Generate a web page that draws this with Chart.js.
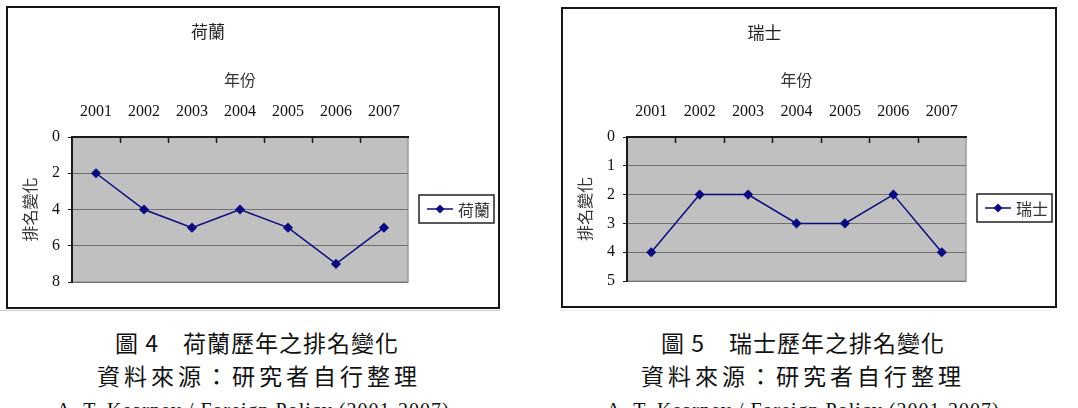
<!DOCTYPE html>
<html>
<head>
<meta charset="utf-8">
<script src="https://cdn.jsdelivr.net/npm/chart.js@4"></script>
<style>
  html, body { margin: 0; padding: 0; background: #fff; }
  body { width: 1078px; height: 408px; position: relative; overflow: hidden; }
  .box { position: absolute; border: 2px solid #161616; box-sizing: border-box; background: #fff; }
  .box canvas { position: absolute; left: 0; top: 0; }
  .rule { position: absolute; height: 1px; }
  .cap { position: absolute; text-align: center; color: #111; white-space: nowrap; }
  .cjk { font-family: "Noto Sans CJK TC", sans-serif; font-size: 23px; line-height: 30px; }
  .src { font-family: "Liberation Serif", serif; font-size: 20px; line-height: 20px; letter-spacing: 1px; }
</style>
</head>
<body>
<div class="box" style="left:6px;top:6px;width:494px;height:303px;"><canvas id="nlChart" width="490" height="299"></canvas></div>
<div class="box" style="left:561px;top:7px;width:496px;height:301px;"><canvas id="chChart" width="492" height="297"></canvas></div>
<div class="rule" style="left:0;top:310px;width:500px;background:#cfcfcf;"></div>
<div class="rule" style="left:560px;top:310px;width:492px;background:#ececec;"></div>

<div class="cap cjk" style="left:0;top:327px;width:514px;letter-spacing:1px;">圖 4　荷蘭歷年之排名變化</div>
<div class="cap cjk" style="left:0;top:360px;width:518px;letter-spacing:4px;">資料來源：研究者自行整理</div>
<div class="cap src" style="left:0;top:400px;width:506px;">A. T. Kearney / Foreign Policy (2001-2007)</div>

<div class="cap cjk" style="left:546px;top:327px;width:514px;letter-spacing:1px;">圖 5　瑞士歷年之排名變化</div>
<div class="cap cjk" style="left:546px;top:360px;width:514px;letter-spacing:4px;">資料來源：研究者自行整理</div>
<div class="cap src" style="left:546px;top:400px;width:514px;">A. T. Kearney / Foreign Policy (2001-2007)</div>

<script>
const YEARS = ["2001", "2002", "2003", "2004", "2005", "2006", "2007"];

const NL_NAME = "荷蘭";
const NL_RANK = [2, 4, 5, 4, 5, 7, 5];
const NL_Y_MAX = 8;
const NL_Y_STEP = 2;

const CH_NAME = "瑞士";
const CH_RANK = [4, 2, 2, 3, 3, 2, 4];
const CH_Y_MAX = 5;
const CH_Y_STEP = 1;

const X_TITLE = "年份";
const Y_TITLE = "排名變化";

const LINE_COLOR = "#0a0a80";
const SERIF = "'Liberation Serif', 'Times New Roman', serif";
const CJK = "'Noto Sans CJK TC', sans-serif";

// grey plot area with light right / bottom edge
const plotBackground = {
  id: "plotBackground",
  beforeDraw(chart) {
    const { ctx, chartArea: a } = chart;
    ctx.save();
    ctx.fillStyle = "#c0c0c0";
    ctx.fillRect(a.left, a.top, a.right - a.left, a.bottom - a.top);
    ctx.strokeStyle = "#9a9a9a";
    ctx.lineWidth = 1.5;
    ctx.strokeRect(a.left, a.top, a.right - a.left, a.bottom - a.top);
    ctx.restore();
  },
};

// small tick marks pointing down from the top axis, between categories
const innerTicks = {
  id: "innerTicks",
  afterDatasetsDraw(chart) {
    const { ctx, chartArea: a } = chart;
    const x = chart.scales.x;
    ctx.save();
    ctx.strokeStyle = "#1a1a1a";
    ctx.lineWidth = 1.5;
    for (let i = 1; i < YEARS.length; i++) {
      const px = Math.round((x.getPixelForValue(i - 1) + x.getPixelForValue(i)) / 2) + 0.5;
      ctx.beginPath();
      ctx.moveTo(px, a.top);
      ctx.lineTo(px, a.top + 6);
      ctx.stroke();
    }
    ctx.restore();
  },
};

// boxed legend to the right of the plot
const boxLegend = {
  id: "boxLegend",
  afterDraw(chart) {
    const { ctx, chartArea: a } = chart;
    const ds = chart.data.datasets[0];
    const w = 75, h = 28;
    const left = a.right + 11;
    const top = Math.round((a.top + a.bottom) / 2 - h / 2) - 1;
    const cy = top + h / 2;
    ctx.save();
    ctx.strokeStyle = "#222";
    ctx.lineWidth = 1.5;
    ctx.strokeRect(left, top, w, h);
    ctx.strokeStyle = ds.borderColor;
    ctx.lineWidth = 1.5;
    ctx.beginPath();
    ctx.moveTo(left + 8, cy);
    ctx.lineTo(left + 34, cy);
    ctx.stroke();
    ctx.fillStyle = ds.borderColor;
    ctx.beginPath();
    ctx.moveTo(left + 21, cy - 4.5);
    ctx.lineTo(left + 25.5, cy);
    ctx.lineTo(left + 21, cy + 4.5);
    ctx.lineTo(left + 16.5, cy);
    ctx.closePath();
    ctx.fill();
    ctx.fillStyle = "#333";
    ctx.font = "16px " + CJK;
    ctx.textBaseline = "middle";
    ctx.fillText(ds.label, left + 39, cy + 1);
    ctx.restore();
  },
};

function makeChart(id, name, values, yMax, yStep, g) {
  return new Chart(document.getElementById(id), {
    type: "line",
    data: {
      labels: YEARS,
      datasets: [
        {
          label: name,
          data: values,
          borderColor: LINE_COLOR,
          backgroundColor: LINE_COLOR,
          borderWidth: 1.5,
          tension: 0,
          pointStyle: "rectRot",
          pointRadius: 4,
          pointHoverRadius: 4,
        },
      ],
    },
    options: {
      responsive: false,
      animation: false,
      devicePixelRatio: 1,
      layout: {
        padding: { left: 0, right: g.right, top: 0, bottom: g.bottom },
      },
      plugins: {
        legend: { display: false },
        tooltip: { enabled: false },
        title: {
          display: true,
          text: name,
          color: "#222",
          font: { family: CJK, size: 17, weight: "normal" },
          padding: { top: 13, bottom: 0 },
        },
      },
      scales: {
        x: {
          position: "top",
          offset: true,
          afterFit: (s) => { s.height = g.xHeight; },
          grid: { display: false, drawTicks: false },
          border: { display: true, color: "#1a1a1a", width: 2 },
          ticks: {
            color: "#111",
            padding: 15.4,
            maxRotation: 0,
            font: { family: SERIF, size: 16 },
          },
          title: {
            display: true,
            text: X_TITLE,
            color: "#333",
            font: { family: CJK, size: 16 },
            padding: { top: g.xTitlePad, bottom: 0 },
          },
        },
        y: {
          reverse: true,
          min: 0,
          max: yMax,
          afterFit: (s) => { s.width = 64; },
          grid: {
            color: "#707070",
            lineWidth: 1,
            drawTicks: true,
            tickLength: 4,
            tickColor: "#1a1a1a",
          },
          border: { display: true, color: "#1a1a1a", width: 2 },
          ticks: {
            stepSize: yStep,
            color: "#111",
            padding: 8,
            font: { family: SERIF, size: 16 },
          },
          title: {
            display: true,
            text: Y_TITLE,
            color: "#333",
            font: { family: CJK, size: 16 },
            padding: { top: 12.4, bottom: 0 },
          },
        },
      },
    },
    plugins: [plotBackground, innerTicks, boxLegend],
  });
}

makeChart("nlChart", NL_NAME, NL_RANK, NL_Y_MAX, NL_Y_STEP, {
  right: 90,
  bottom: 25,
  xHeight: 95.6,
  xTitlePad: 29,
});

makeChart("chChart", CH_NAME, CH_RANK, CH_Y_MAX, CH_Y_STEP, {
  right: 89,
  bottom: 25,
  xHeight: 94.6,
  xTitlePad: 28,
});
</script>
</body>
</html>
